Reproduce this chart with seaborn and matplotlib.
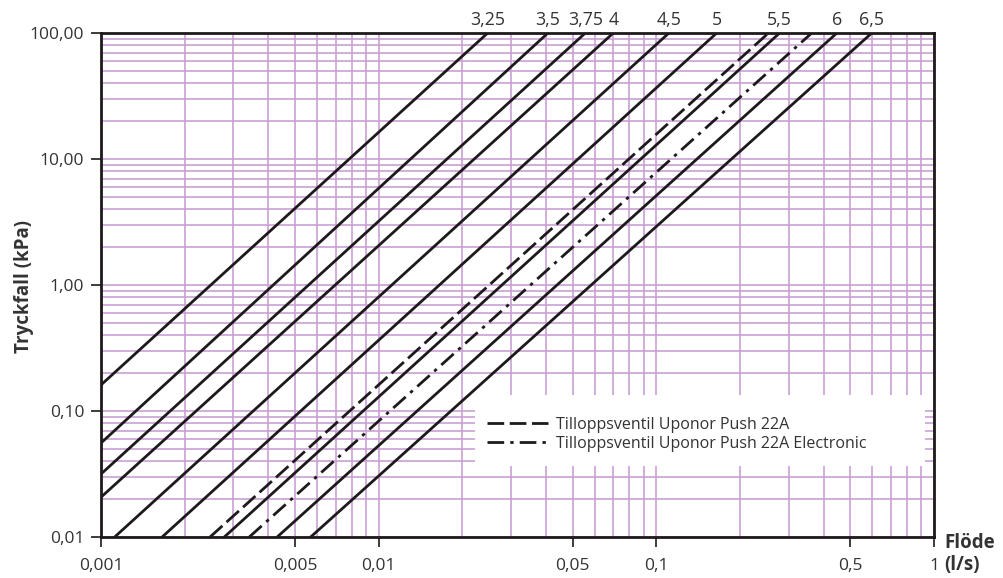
import numpy as np
import pandas as pd
import matplotlib
matplotlib.use('Agg')
import matplotlib.pyplot as plt
import matplotlib.ticker as mticker
from matplotlib.patches import Rectangle
import seaborn as sns

# Preset lines (solid): start point and end point (at 100 kPa).
presets = ['3,25', '3,5', '3,75', '4', '4,5', '5', '5,5', '6', '6,5']
presetFlowStart = [0.001, 0.001, 0.001, 0.001, 0.00112, 0.00166, 0.00278, 0.00431, 0.00569]
presetDropStart = [0.161, 0.0557, 0.0316, 0.0207, 0.01, 0.01, 0.01, 0.01, 0.01]
presetFlowEnd = [0.0247, 0.0407, 0.0555, 0.0700, 0.111, 0.165, 0.278, 0.447, 0.597]
presetDropEnd = [100, 100, 100, 100, 100, 100, 100, 100, 100]

# Valve lines (legend entries).
valves = ['Tilloppsventil Uponor Push 22A', 'Tilloppsventil Uponor Push 22A Electronic']
valveFlowStart = [0.00247, 0.00342]
valveDropStart = [0.01, 0.01]
valveFlowEnd = [0.2535, 0.363]
valveDropEnd = [100, 100]

xTicks = [0.001, 0.005, 0.01, 0.05, 0.1, 0.5, 1]
xTickLabels = ['0,001', '0,005', '0,01', '0,05', '0,1', '0,5', '1']
yTicks = [0.01, 0.1, 1, 10, 100]
yTickLabels = ['0,01', '0,10', '1,00', '10,00', '100,00']

# Style.
sns.set_style('white')
plt.rcParams['font.family'] = ['Open Sans', 'DejaVu Sans']
textColor = '#333333'
gridColor = '#cb9fd4'
inkColor = '#1e1a1b'

fig = plt.figure(figsize=(10.04, 5.78), dpi=100)
ax = fig.add_axes([101 / 1004, 1 - 537 / 578, 833 / 1004, 504 / 578])
ax.set_xscale('log')
ax.set_yscale('log')

# Preset lines.
for i, name in enumerate(presets):
  df = pd.DataFrame({'flow': [presetFlowStart[i], presetFlowEnd[i]],
                     'drop': [presetDropStart[i], presetDropEnd[i]]})
  sns.lineplot(data=df, x='flow', y='drop', ax=ax, color=inkColor, linewidth=2.0,
               legend=False, zorder=3)
  ax.annotate(name, xy=(presetFlowEnd[i], presetDropEnd[i]), xytext=(0, 3),
              textcoords='offset points', ha='center', va='bottom',
              fontsize=12.8, color=textColor, annotation_clip=False)

# Valve lines.
valveDashes = [(6, 2), (6, 2.2, 1.2, 2.2)]
for i, name in enumerate(valves):
  df = pd.DataFrame({'flow': [valveFlowStart[i], valveFlowEnd[i]],
                     'drop': [valveDropStart[i], valveDropEnd[i]]})
  sns.lineplot(data=df, x='flow', y='drop', ax=ax, color=inkColor, linewidth=2.0,
               dashes=False, label=name, zorder=3)
  ax.lines[-1].set_dashes(valveDashes[i])

# Axis setup.
ax.set_xlim(0.001, 1)
ax.set_ylim(0.01, 100)
ax.xaxis.set_major_locator(mticker.FixedLocator(xTicks))
ax.xaxis.set_major_formatter(mticker.FixedFormatter(xTickLabels))
ax.yaxis.set_major_locator(mticker.FixedLocator(yTicks))
ax.yaxis.set_major_formatter(mticker.FixedFormatter(yTickLabels))
ax.xaxis.set_minor_locator(mticker.LogLocator(base=10, subs=np.arange(2, 10), numticks=20))
ax.yaxis.set_minor_locator(mticker.LogLocator(base=10, subs=np.arange(2, 10), numticks=20))
ax.xaxis.set_minor_formatter(mticker.NullFormatter())
ax.yaxis.set_minor_formatter(mticker.NullFormatter())
ax.tick_params(which='major', direction='out', length=7, width=1.2, color=inkColor,
               labelsize=12.5, labelcolor=textColor)
ax.tick_params(axis='x', which='major', pad=8)
ax.tick_params(axis='y', which='major', pad=5)
ax.tick_params(which='minor', length=0)
ax.tick_params(bottom=True, left=True)

# Grid (major and minor, same colour).
ax.set_axisbelow(True)
ax.grid(True, which='both', color=gridColor, linewidth=1.2)

for s in ax.spines.values():
  s.set_visible(True)
  s.set_color(inkColor)
  s.set_linewidth(2.0)
  s.set_zorder(5)

ax.set_xlabel('')
ax.set_ylabel('')

# White box behind the legend.
ax.add_patch(Rectangle((0.449, 0.141), 0.540, 0.141, transform=ax.transAxes,
                       facecolor='white', edgecolor='none', zorder=2))
ax.legend(loc='upper left', bbox_to_anchor=(0.4634, 0.239), frameon=False,
          borderaxespad=0, borderpad=0, handlelength=3.8, handletextpad=0.55,
          labelspacing=0.2, fontsize=11.5, labelcolor=textColor)

# Axis titles.
fig.text(24 / 1004, 1 - 287 / 578, 'Tryckfall (kPa)', rotation=90, ha='center',
         va='center', fontsize=13.5, fontweight='bold', color=textColor)
fig.text(944 / 1004, 1 - 543 / 578, 'Flöde', ha='left', va='center',
         fontsize=13.5, fontweight='bold', color=textColor)
fig.text(944 / 1004, 1 - 565 / 578, '(l/s)', ha='left', va='center',
         fontsize=13.5, fontweight='bold', color=textColor)

fig.savefig('out.png', dpi=100)
